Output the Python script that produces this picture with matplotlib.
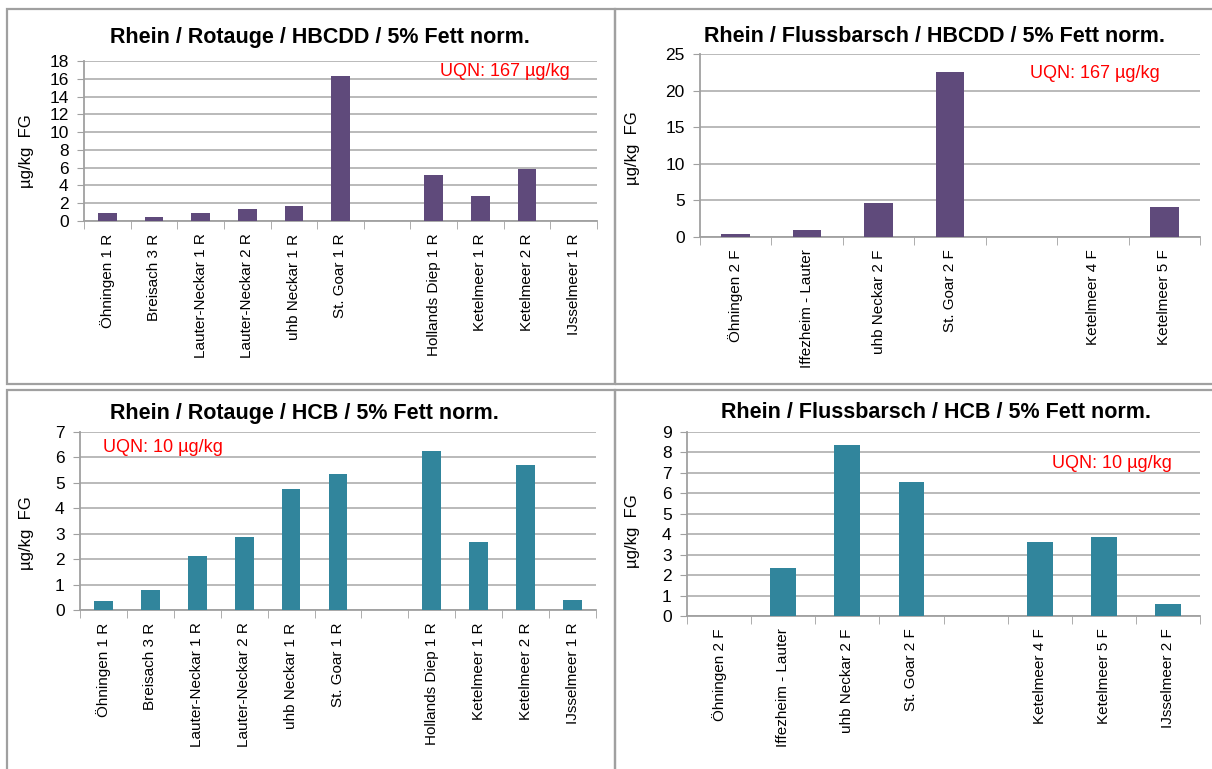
#!/usr/bin/env python3
# -*- coding: utf-8 -*-
"""
Rhein fish monitoring: HBCDD and HCB (5% fat normalised), four bar panels.
"""

import numpy as np
import matplotlib
matplotlib.use("Agg")
import matplotlib.pyplot as plt
from matplotlib.patches import Rectangle

plt.rcParams['font.family'] = ['Liberation Sans', 'DejaVu Sans']

# Categories (empty string = blank gap column in the original chart)
rotauge_sites = ["Öhningen 1 R", "Breisach 3 R", "Lauter-Neckar 1 R", "Lauter-Neckar 2 R",
                 "uhb Neckar 1 R", "St. Goar 1 R", "", "Hollands Diep 1 R",
                 "Ketelmeer 1 R", "Ketelmeer 2 R", "IJsselmeer 1 R"]
barsch_sites_hbcdd = ["Öhningen 2 F", "Iffezheim - Lauter", "uhb Neckar 2 F", "St. Goar 2 F",
                      "", "Ketelmeer 4 F", "Ketelmeer 5 F"]
barsch_sites_hcb = ["Öhningen 2 F", "Iffezheim - Lauter", "uhb Neckar 2 F", "St. Goar 2 F",
                    "", "Ketelmeer 4 F", "Ketelmeer 5 F", "IJsselmeer 2 F"]

# Values (µg/kg FG)
rotauge_hbcdd = [0.95, 0.4, 0.95, 1.4, 1.65, 16.35, 0, 5.15, 2.8, 5.85, 0]
barsch_hbcdd = [0.38, 1.0, 4.6, 22.6, 0, 0, 4.15]
rotauge_hcb = [0.37, 0.77, 2.11, 2.86, 4.76, 5.34, 0, 6.25, 2.67, 5.69, 0.4]
barsch_hcb = [0, 2.36, 8.37, 6.54, 0, 3.63, 3.84, 0.59]

W, H = 1212, 769
PURPLE = '#5F4A7B'
TEAL = '#31859C'
GRID = '#B4B4B4'
AXIS = '#A0A0A0'


def px_rect(left, top, right, bottom):
    """Convert pixel box (from the top-left corner) to figure fraction rect."""
    return [left / W, 1 - bottom / H, (right - left) / W, (bottom - top) / H]


def bar_panel(fig, box, sites, values, color, ymax, ystep, title, title_xy,
              uqn, uqn_xy, ylabel_xy):
    ax = fig.add_axes(px_rect(*box))
    x = np.arange(len(sites))
    ax.bar(x, values, width=0.4, color=color, linewidth=0, zorder=3)

    ax.set_xlim(-0.5, len(sites) - 0.5)
    ax.set_ylim(0, ymax)
    ax.set_yticks(np.arange(0, ymax + 0.01, ystep))
    ax.tick_params(axis='y', labelsize=12.5, length=5, color=AXIS, pad=6)

    ax.set_xticks(x)
    ax.set_xticklabels(sites, rotation=90, fontsize=11)
    ax.set_xticks(np.arange(-0.5, len(sites)), minor=True)
    ax.tick_params(axis='x', which='major', length=0, pad=9)
    ax.tick_params(axis='x', which='minor', length=6, color=AXIS)

    ax.grid(axis='y', color=GRID, linewidth=1.3, zorder=0)
    ax.set_axisbelow(True)
    for s in ['top', 'right']:
        ax.spines[s].set_visible(False)
    for s in ['left', 'bottom']:
        ax.spines[s].set_color(AXIS)
        ax.spines[s].set_linewidth(1.3)

    fig.text(title_xy[0] / W, 1 - title_xy[1] / H, title, ha='center', va='center',
             fontsize=15.5, fontweight='bold')
    fig.text(uqn_xy[0] / W, 1 - uqn_xy[1] / H, uqn, ha='left', va='center',
             fontsize=13, color='#FF0000')
    fig.text(ylabel_xy[0] / W, 1 - ylabel_xy[1] / H, "µg/kg  FG", ha='center', va='center',
             rotation=90, fontsize=12)
    return ax


def main():
    fig = plt.figure(figsize=(W / 100, H / 100), dpi=100)

    # panel frames
    for (l, t, r, b) in [(7, 9, 615, 384), (615, 9, 1214, 384),
                         (7, 390, 615, 771), (615, 390, 1214, 771)]:
        fig.patches.append(Rectangle((l / W, 1 - b / H), (r - l) / W, (b - t) / H,
                                     transform=fig.transFigure, fill=False,
                                     edgecolor='#A0A0A0', linewidth=1.6))

    bar_panel(fig, (84, 61, 597, 221), rotauge_sites, rotauge_hbcdd, PURPLE, 18, 2,
              "Rhein / Rotauge / HBCDD / 5% Fett norm.", (320, 37),
              "UQN: 167 µg/kg", (440, 71), (27, 151))
    bar_panel(fig, (700, 54, 1200, 237), barsch_sites_hbcdd, barsch_hbcdd, PURPLE, 25, 5,
              "Rhein / Flussbarsch / HBCDD / 5% Fett norm.", (935, 37),
              "UQN: 167 µg/kg", (1030, 74), (633, 148))
    bar_panel(fig, (80, 432, 596, 610), rotauge_sites, rotauge_hcb, TEAL, 7, 1,
              "Rhein / Rotauge / HCB / 5% Fett norm.", (304, 413),
              "UQN: 10 µg/kg", (103, 447), (27, 533))
    bar_panel(fig, (687, 432, 1200, 616), barsch_sites_hcb, barsch_hcb, TEAL, 9, 1,
              "Rhein / Flussbarsch / HCB / 5% Fett norm.", (936, 413),
              "UQN: 10 µg/kg", (1052, 463), (633, 531))

    fig.savefig("out.png", dpi=100)
    plt.close(fig)


if __name__ == "__main__":
    main()
